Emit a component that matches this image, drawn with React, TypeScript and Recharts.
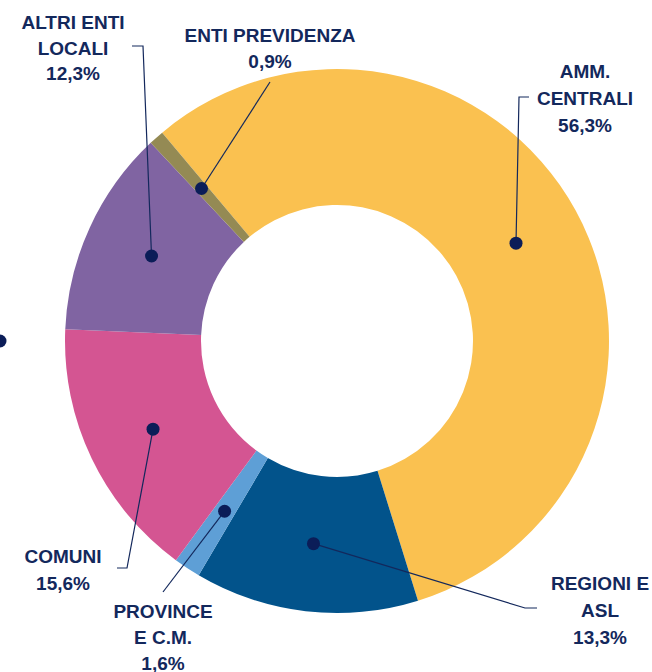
import { Cell, Customized, Pie, PieChart } from "recharts";

const sectors = [
  "Amm. centrali",
  "Regioni e ASL",
  "Province e C.M.",
  "Comuni",
  "Altri enti locali",
  "Enti previdenza",
];
const shares = [56.3, 13.3, 1.6, 15.6, 12.3, 0.9];
const labelLines = [
  ["AMM.", "CENTRALI"],
  ["REGIONI E", "ASL"],
  ["PROVINCE", "E C.M."],
  ["COMUNI"],
  ["ALTRI ENTI", "LOCALI"],
  ["ENTI PREVIDENZA"],
];

const colors = ["#FAC150", "#02538B", "#5E9FD6", "#D45592", "#8064A2", "#948A54"];
const NAVY = "#13285C";

// label text anchor + leader line bends, per slice
const layout = [
  { x: 585, y: 78, lh: 27, path: [[519, 97], [529, 97]] },
  { x: 600, y: 590, lh: 27, path: [[525, 608], [537, 608]] },
  { x: 163, y: 618, lh: 26, path: [[163, 592]] },
  { x: 63, y: 563, lh: 27, path: [[127, 568], [117, 568]] },
  { x: 73, y: 29, lh: 25.5, path: [[143, 46], [132, 46]] },
  { x: 270, y: 42, lh: 26, path: [[270, 82]] },
];

const data = sectors.map((name, i) => ({ name, value: shares[i] }));

const fmt = (v: number) => v.toFixed(1).replace(".", ",") + "%";

function renderLabel(props: any) {
  const { cx, cy, midAngle, innerRadius, outerRadius, index, value } = props;
  const RAD = Math.PI / 180;
  const r = (innerRadius + outerRadius) / 2;
  const dx = cx + r * Math.cos(-midAngle * RAD);
  const dy = cy + r * Math.sin(-midAngle * RAD);
  const l = layout[index];
  const pts = [[dx, dy], ...l.path].map((p) => p.join(",")).join(" ");
  const lines = [...labelLines[index], fmt(value)];
  return (
    <g key={`lbl-${index}`}>
      <polyline points={pts} fill="none" stroke={NAVY} strokeWidth={1.2} />
      <circle cx={dx} cy={dy} r={6.5} fill="#0B1D58" />
      <text
        x={l.x}
        y={l.y}
        textAnchor="middle"
        fill={NAVY}
        fontFamily="'Liberation Sans', Arial, sans-serif"
        fontWeight="bold"
        fontSize={19}
      >
        {lines.map((t, k) => (
          <tspan key={k} x={l.x} y={l.y + k * l.lh}>
            {t}
          </tspan>
        ))}
      </text>
    </g>
  );
}

export default function App() {
  return (
    <div style={{ position: "absolute", left: 0, top: 0, background: "#fff" }}>
      <PieChart width={652} height={672} margin={{ top: 0, right: 0, bottom: 0, left: 0 }}>
        <Pie
          data={data}
          dataKey="value"
          nameKey="name"
          cx={337}
          cy={341}
          innerRadius={136}
          outerRadius={272}
          startAngle={130}
          endAngle={-230}
          stroke="none"
          label={renderLabel}
          labelLine={false}
          isAnimationActive={false}
        >
          {data.map((d, i) => (
            <Cell key={d.name} fill={colors[i]} />
          ))}
        </Pie>
        <Customized component={() => <circle cx={0} cy={341} r={6.5} fill="#0B1D58" />} />
      </PieChart>
    </div>
  );
}
